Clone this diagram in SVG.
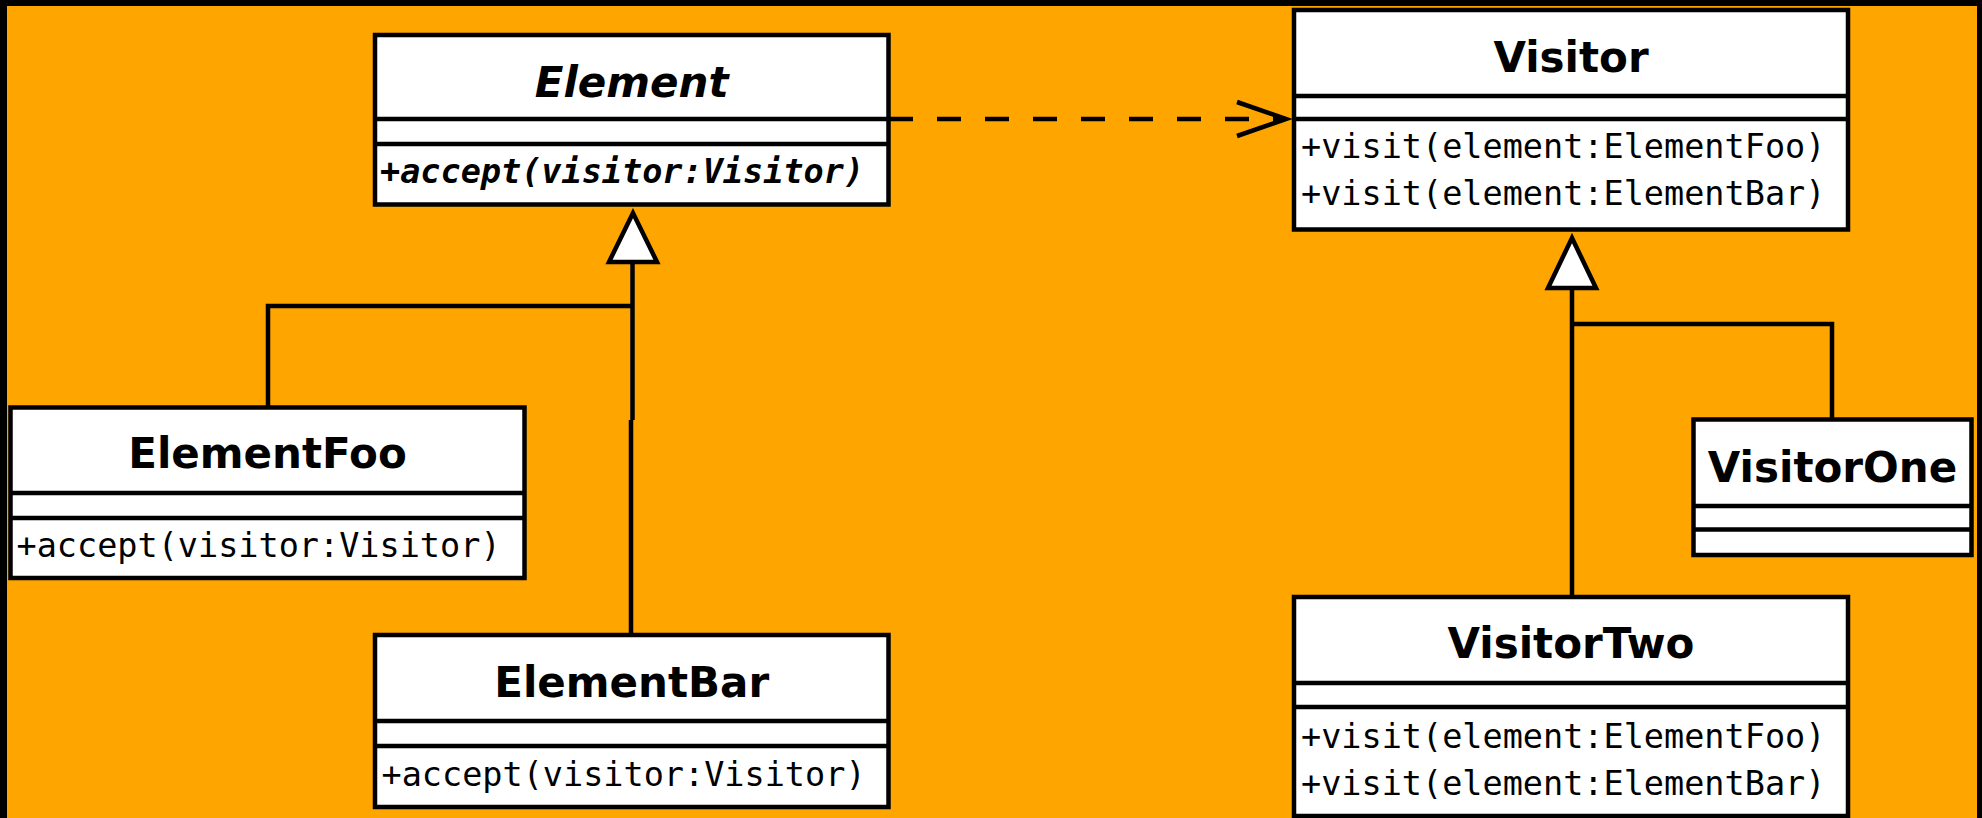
<svg xmlns="http://www.w3.org/2000/svg" width="1982" height="818" viewBox="0 0 1982 818">
<style>
.box{fill:#fff;stroke:#000;stroke-width:4.5}
.dv{stroke:#000;stroke-width:4.5}
.title{font-family:"DejaVu Sans",sans-serif;font-weight:bold;font-size:42px;text-anchor:middle;fill:#000}
.abs{font-style:italic}
.op{font-family:"DejaVu Sans Mono",monospace;font-size:33.5px;fill:#000}
.conn{fill:none;stroke:#000;stroke-width:4.5}
.tri{fill:#fff;stroke:#000;stroke-width:4.5}
</style>
<rect width="1982" height="818" fill="#000"/>
<rect x="7" y="6" width="1970" height="812" fill="#FFA500"/>

<g id="connectors">
  <path class="conn" d="M889,119 H1282" stroke-dasharray="24 24"/>
  <polyline class="conn" points="1237,102 1286,119 1237,136"/>
  <path class="conn" d="M632.5,262 V420 M631,420 V635"/>
  <path class="conn" d="M632.5,306 H268 V407"/>
  <polygon class="tri" points="633,213 609,262 657,262"/>
  <path class="conn" d="M1572,288 V597"/>
  <path class="conn" d="M1572,324 H1832 V419"/>
  <polygon class="tri" points="1572,238 1548,288 1596,288"/>
</g>

<g id="element">
  <rect class="box" x="375" y="35" width="513.5" height="169.5"/>
  <line class="dv" x1="375" y1="119" x2="888.5" y2="119"/>
  <line class="dv" x1="375" y1="144" x2="888.5" y2="144"/>
  <text class="title abs" x="631.7" y="97">Element</text>
  <text class="op" x="380" y="183" font-weight="bold" font-style="italic">+accept(visitor:Visitor)</text>
</g>

<g id="visitor">
  <rect class="box" x="1294" y="10" width="554" height="219.5"/>
  <line class="dv" x1="1294" y1="96" x2="1848" y2="96"/>
  <line class="dv" x1="1294" y1="119" x2="1848" y2="119"/>
  <text class="title" x="1571" y="72">Visitor</text>
  <text class="op" x="1301" y="158">+visit(element:ElementFoo)</text>
  <text class="op" x="1301" y="205">+visit(element:ElementBar)</text>
</g>

<g id="elementfoo">
  <rect class="box" x="10.5" y="407.5" width="514" height="170.5"/>
  <line class="dv" x1="10.5" y1="493" x2="524.5" y2="493"/>
  <line class="dv" x1="10.5" y1="518" x2="524.5" y2="518"/>
  <text class="title" x="267.5" y="468">ElementFoo</text>
  <text class="op" x="16.5" y="557">+accept(visitor:Visitor)</text>
</g>

<g id="elementbar">
  <rect class="box" x="375" y="635" width="513.5" height="172"/>
  <line class="dv" x1="375" y1="721" x2="888.5" y2="721"/>
  <line class="dv" x1="375" y1="746" x2="888.5" y2="746"/>
  <text class="title" x="631.7" y="697">ElementBar</text>
  <text class="op" x="381.5" y="786">+accept(visitor:Visitor)</text>
</g>

<g id="visitorone">
  <rect class="box" x="1693.5" y="419.5" width="278" height="135.5"/>
  <line class="dv" x1="1693.5" y1="506" x2="1971.5" y2="506"/>
  <line class="dv" x1="1693.5" y1="529.5" x2="1971.5" y2="529.5"/>
  <text class="title" x="1832.5" y="482">VisitorOne</text>
</g>

<g id="visitortwo">
  <rect class="box" x="1294" y="597" width="554" height="219"/>
  <line class="dv" x1="1294" y1="683" x2="1848" y2="683"/>
  <line class="dv" x1="1294" y1="707" x2="1848" y2="707"/>
  <text class="title" x="1571" y="658">VisitorTwo</text>
  <text class="op" x="1301" y="748">+visit(element:ElementFoo)</text>
  <text class="op" x="1301" y="795">+visit(element:ElementBar)</text>
</g>
</svg>
